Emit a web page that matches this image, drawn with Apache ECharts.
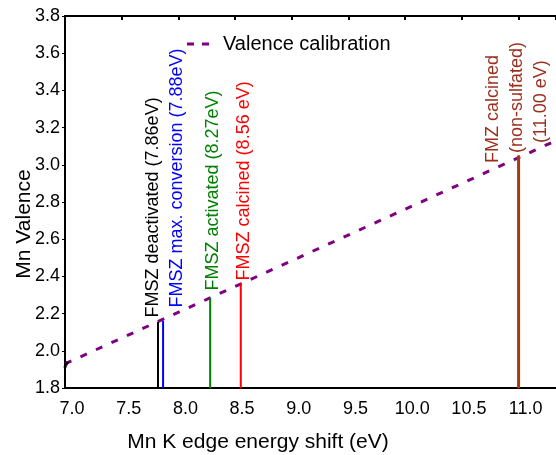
<!DOCTYPE html>
<html>
<head>
<meta charset="utf-8">
<script src="https://cdn.jsdelivr.net/npm/echarts@6/dist/echarts.min.js"></script>
<style>
html, body { margin: 0; padding: 0; background: #fff; }
#chart { width: 556px; height: 455px; }
</style>
</head>
<body>
<div id="chart"></div>
<script>
// valence calibration line, both ends
const calibShift = [7.0, 11.33]
const calibValence = [1.93, 3.13]
// small black mark at the start of the calibration
const markShift = [7.01]
const markValence = [1.925]
// samples (drop lines)
const sampleShift = [7.82, 7.865, 8.28, 8.55, 11.0]
const sampleValence = [2.155, 2.16, 2.284, 2.365, 3.05]
const sampleLabels = [
  ['FMSZ deactivated (7.86eV)'],
  ['FMSZ max. conversion (7.88eV)'],
  ['FMSZ activated (8.27eV)'],
  ['FMSZ calcined (8.56 eV)'],
  ['FMZ calcined', '(non-sulfated)', '(11.00 eV)']
]
const yBase = 1.8

const FONT = '"Liberation Sans", Arial, sans-serif'
const sampleColors = ['#000000', '#0000ff', '#008000', '#ff0000', '#a33c0a']
const sampleWidths = [2, 2, 2, 2, 3]
// label placement: distance above line top, offset in rotated frame [up, right]
const labelPlace = [
  { distance: 4, offset: [0, -5] },
  { distance: 13, offset: [0, 14] },
  { distance: 7, offset: [0, 3] },
  { distance: 2, offset: [0, 3] },
  { distance: 0, offset: [-8, -2] }
]

const chart = echarts.init(document.getElementById('chart'))

function labelFor (i) {
  const lines = sampleLabels[i]
  const cfg = {
    show: true,
    rotate: 90,
    position: 'top',
    align: 'left',
    verticalAlign: 'middle',
    distance: labelPlace[i].distance,
    offset: labelPlace[i].offset,
    color: sampleColors[i],
    fontSize: 18,
    fontFamily: FONT
  }
  if (lines.length > 1) {
    cfg.formatter = lines.map((t, k) => '{l' + k + '|' + t + '}').join('\n')
    cfg.lineHeight = 24
    cfg.rich = {}
    lines.forEach((t, k) => {
      cfg.rich['l' + k] = { padding: [0, 0, 0, k * 10], fontSize: 18, fontFamily: FONT, color: '#9c2f1c', lineHeight: 24 }
    })
  } else {
    cfg.formatter = lines[0]
  }
  return cfg
}

const sampleSeries = sampleShift.map((x, i) => ({
  name: 's' + i,
  type: 'line',
  symbol: 'circle',
  symbolSize: 1,
  showSymbol: true,
  silent: true,
  animation: false,
  lineStyle: { color: sampleColors[i], width: sampleWidths[i] },
  itemStyle: { color: sampleColors[i] },
  label: { show: false },
  emphasis: { disabled: true },
  data: [
    [x, yBase],
    { value: [x, sampleValence[i]], label: labelFor(i) }
  ],
  z: 3
}))

const option = {
  animation: false,
  backgroundColor: '#fff',
  grid: { left: 65, right: 0, top: 16, bottom: 67 },
  legend: {
    // two short dashes, like the dashed calibration line
    data: [{ name: 'Valence calibration', icon: 'path://M0,0H7V3H0Z M15,0H22V3H15Z' }],
    left: 182,
    top: 29,
    itemWidth: 22,
    itemHeight: 3,
    itemStyle: { color: '#800080', borderWidth: 0 },
    textStyle: { fontSize: 20, fontFamily: FONT, color: '#000', padding: [0, 0, 0, 9] }
  },
  xAxis: [
    {
      type: 'value',
      min: 7.0,
      max: 11.33,
      interval: 0.5,
      position: 'bottom',
      axisLine: { lineStyle: { color: '#000', width: 2 } },
      axisTick: { show: false },
      splitLine: { show: false },
      axisLabel: {
        margin: 12,
        showMaxLabel: false,
        formatter: v => (Math.abs(v * 2 - Math.round(v * 2)) < 1e-6 ? '{a|' + v.toFixed(1) + '}' : ''),
        rich: { a: { padding: [0, 0, 0, 14], fontSize: 18, fontFamily: FONT, color: '#000' } }
      }
    },
    {
      type: 'value',
      min: 7.0,
      max: 11.33,
      interval: 0.5,
      position: 'top',
      axisLine: { lineStyle: { color: '#000', width: 2 } },
      axisTick: { show: true, inside: true, length: 4, lineStyle: { color: '#000', width: 2 } },
      axisLabel: { show: false },
      splitLine: { show: false }
    }
  ],
  yAxis: {
    type: 'value',
    min: 1.8,
    max: 3.8,
    interval: 0.2,
    axisLine: { show: true, lineStyle: { color: '#000', width: 2 } },
    axisTick: { show: true, length: 3, lineStyle: { color: '#000', width: 1 } },
    splitLine: { show: false },
    axisLabel: {
      margin: 5,
      fontSize: 18,
      fontFamily: FONT,
      color: '#000',
      formatter: v => v.toFixed(1)
    }
  },
  graphic: [
    {
      type: 'text',
      x: 258,
      y: 442,
      style: { text: 'Mn K edge energy shift (eV)', fontSize: 21, fontFamily: FONT, fill: '#000', align: 'center', verticalAlign: 'middle' }
    },
    {
      type: 'text',
      x: 24,
      y: 224,
      rotation: Math.PI / 2,
      style: { text: 'Mn Valence', fontSize: 21, fontFamily: FONT, fill: '#000', align: 'center', verticalAlign: 'middle' }
    }
  ],
  series: [
    {
      name: 'Valence calibration',
      type: 'line',
      symbol: 'none',
      silent: true,
      lineStyle: { color: '#800080', width: 3, type: [7, 10] },
      itemStyle: { color: '#800080' },
      data: calibShift.map((x, i) => [x, calibValence[i]]),
      z: 2
    },
    {
      name: 'mark',
      type: 'scatter',
      symbol: 'rect',
      symbolSize: [3, 7],
      symbolRotate: -25,
      clip: false,
      silent: true,
      itemStyle: { color: '#000' },
      data: markShift.map((x, i) => [x, markValence[i]]),
      z: 4
    }
  ].concat(sampleSeries)
}

chart.setOption(option)
</script>
</body>
</html>
